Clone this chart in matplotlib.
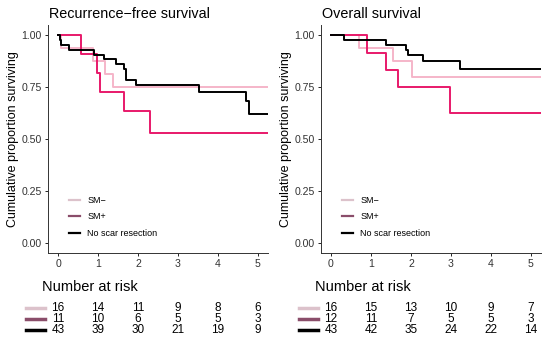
import matplotlib
matplotlib.use('Agg')
import matplotlib.pyplot as plt
from matplotlib.transforms import blended_transform_factory
from matplotlib.lines import Line2D

plt.rcParams['font.family'] = ['Liberation Sans', 'DejaVu Sans']

# Kaplan-Meier step curves (time in years, survival proportion)
rfs_smneg_t = [0, 0.08, 0.87, 1.17, 1.37, 5.25]
rfs_smneg_s = [1.0, 0.9375, 0.875, 0.8125, 0.75, 0.75]
rfs_smpos_t = [0, 0.57, 0.98, 1.06, 1.64, 2.29, 5.25]
rfs_smpos_s = [1.0, 0.909, 0.818, 0.727, 0.636, 0.530, 0.530]
rfs_none_t = [0, 0.04, 0.08, 0.27, 0.90, 1.15, 1.44, 1.64, 1.69, 1.71, 1.96, 3.52, 4.71, 4.78, 5.25]
rfs_none_s = [1.0, 0.977, 0.953, 0.930, 0.907, 0.884, 0.860, 0.837, 0.810, 0.787, 0.762, 0.727, 0.685, 0.623, 0.623]

os_smneg_t = [0, 0.70, 1.55, 2.03, 5.25]
os_smneg_s = [1.0, 0.9375, 0.875, 0.80, 0.80]
os_smpos_t = [0, 0.89, 1.37, 1.67, 2.98, 5.25]
os_smpos_s = [1.0, 0.917, 0.833, 0.75, 0.625, 0.625]
os_none_t = [0, 0.33, 1.37, 1.88, 1.92, 2.31, 3.22, 5.25]
os_none_s = [1.0, 0.977, 0.953, 0.930, 0.905, 0.875, 0.837, 0.837]

# number at risk
risk_times = [0, 1, 2, 3, 4, 5]
rfs_risk_smneg = [16, 14, 11, 9, 8, 6]
rfs_risk_smpos = [11, 10, 6, 5, 5, 3]
rfs_risk_none = [43, 39, 30, 21, 19, 9]
os_risk_smneg = [16, 15, 13, 10, 9, 7]
os_risk_smpos = [12, 11, 7, 5, 5, 3]
os_risk_none = [43, 42, 35, 24, 22, 14]

group_labels = ['SM\u2212', 'SM+', 'No scar resection']
curve_colors = ['#f5b5c9', '#e8196a', '#000000']
key_colors = ['#dcc2cb', '#8a4d6a', '#000000']

panels = [
    ('Recurrence\u2212free survival',
     [(rfs_smneg_t, rfs_smneg_s), (rfs_smpos_t, rfs_smpos_s), (rfs_none_t, rfs_none_s)],
     [rfs_risk_smneg, rfs_risk_smpos, rfs_risk_none]),
    ('Overall survival',
     [(os_smneg_t, os_smneg_s), (os_smpos_t, os_smpos_s), (os_none_t, os_none_s)],
     [os_risk_smneg, os_risk_smpos, os_risk_none]),
]

fig = plt.figure(figsize=(5.5, 3.41), dpi=100)
lefts = [48 / 550, 321 / 550]

for left, (title, curves, risks) in zip(lefts, panels):
    ax = fig.add_axes([left, 88 / 341, 220 / 550, 228 / 341])
    for (t, s), c in zip(curves, curve_colors):
        ax.step(t, s, where='post', color=c, lw=1.4)
    ax.set_xlim(-0.25, 5.25)
    ax.set_ylim(-0.05, 1.05)
    ax.set_xticks(risk_times)
    ax.set_yticks([0, 0.25, 0.5, 0.75, 1.0])
    ax.set_yticklabels(['0.00', '0.25', '0.50', '0.75', '1.00'])
    ax.tick_params(labelsize=7.6, length=2.5, width=0.6, pad=2,
                   colors='black', labelcolor='#333333')
    for side in ['top', 'right']:
        ax.spines[side].set_visible(False)
    for side in ['left', 'bottom']:
        ax.spines[side].set_linewidth(0.7)
        ax.spines[side].set_color('#333333')
    ax.set_ylabel('Cumulative proportion surviving', fontsize=9, labelpad=2)
    ax.set_title(title, fontsize=10.4, loc='left', pad=5, x=0.005)

    handles = [Line2D([0], [0], color=c, lw=1.6) for c in key_colors]
    ax.legend(handles, group_labels, loc='lower left', bbox_to_anchor=(0.06, 0.03),
              frameon=False, fontsize=6.5, handlelength=1.2, handletextpad=0.8,
              labelspacing=0.85)

    # risk table under the axes
    tr = blended_transform_factory(ax.transData, fig.transFigure)
    fig.text(left - 6 / 550, 1 - 287 / 341, 'Number at risk', fontsize=10.5,
             va='center', ha='left')
    row_y = [308, 319, 330]
    for ry, counts, kc in zip(row_y, risks, key_colors):
        yf = 1 - ry / 341
        ax.add_line(Line2D([-0.8, -0.33], [yf, yf], transform=tr, color=kc, lw=2.5,
                           clip_on=False))
        for tt, n in zip(risk_times, counts):
            ax.text(tt, yf, str(n), transform=tr, fontsize=8.5, ha='center', va='center',
                    clip_on=False)

plt.savefig('out.png', dpi=100)
